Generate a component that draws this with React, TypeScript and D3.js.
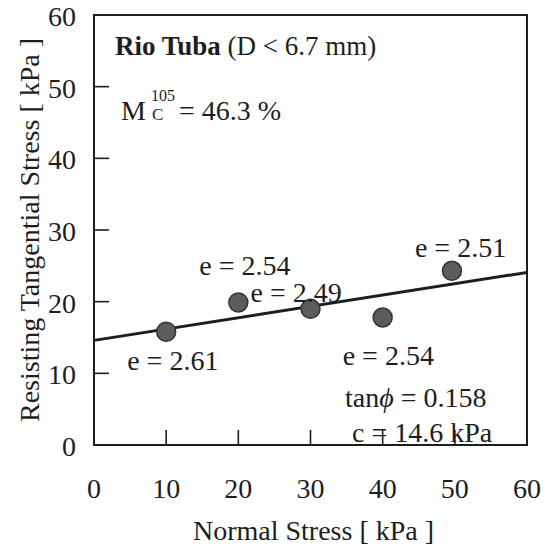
import React from "react";
import * as d3 from "d3";

const normalStress = [10, 20, 30, 40, 49.6];
const tangentialStress = [15.8, 19.9, 19.0, 17.8, 24.3];
const voidRatios = ["e = 2.61", "e = 2.54", "e = 2.49", "e = 2.54", "e = 2.51"];
const xTicks = [0, 10, 20, 30, 40, 50, 60];
const yTicks = [0, 10, 20, 30, 40, 50, 60];
const intercept = 14.6;
const slope = 0.158;

// label offsets (px) relative to each point
const labelOffsets = [
  [-39, 38],
  [-39, -27],
  [-60, -7],
  [-40, 48],
  [-37, -14],
];

const W = 548;
const H = 550;
const INK = "#1e1e1e";
const FONT = "Liberation Serif";

export default function App() {
  const x = d3.scaleLinear().domain([0, 60]).range([94, 527]);
  const y = d3.scaleLinear().domain([0, 60]).range([445, 15]);
  const line = d3
    .line<number>()
    .x((d) => x(d))
    .y((d) => y(intercept + slope * d));

  return (
    <div style={{ position: "absolute", left: 0, top: 0 }}>
      <svg width={W} height={H} style={{ display: "block", background: "#fff" }}>
        {/* frame */}
        <rect
          x={x(0)}
          y={y(60)}
          width={x(60) - x(0)}
          height={y(0) - y(60)}
          fill="none"
          stroke={INK}
          strokeWidth={2}
        />
        {/* ticks */}
        {xTicks.slice(1, -1).map((t) => (
          <line key={"xt" + t} x1={x(t)} x2={x(t)} y1={y(0)} y2={y(0) - 15} stroke={INK} strokeWidth={1.6} />
        ))}
        {yTicks.slice(1, -1).map((t) => (
          <line key={"yt" + t} x1={x(0)} x2={x(0) + 15} y1={y(t)} y2={y(t)} stroke={INK} strokeWidth={1.6} />
        ))}
        <g fill={INK} style={{ fontFamily: FONT, fontSize: 28 }}>
          {/* tick labels */}
          {xTicks.map((t) => (
            <text key={"xl" + t} x={x(t)} y={498} textAnchor="middle">
              {t}
            </text>
          ))}
          {yTicks.map((t) => (
            <text key={"yl" + t} x={76} y={y(t) + 11} textAnchor="end">
              {t}
            </text>
          ))}
          {/* axis titles */}
          <text x={(x(0) + x(60)) / 2 + 3} y={540} textAnchor="middle">
            Normal Stress [ kPa ]
          </text>
          <text transform={`translate(39, 230) rotate(-90)`} textAnchor="middle">
            Resisting Tangential Stress [ kPa ]
          </text>
        </g>
        {/* fit line */}
        <path d={line([0, 60]) || ""} fill="none" stroke={INK} strokeWidth={3} />
        {/* points */}
        {normalStress.map((v, i) => (
          <circle
            key={"p" + i}
            cx={x(v)}
            cy={y(tangentialStress[i])}
            r={9.5}
            fill="#5c5c5c"
            stroke="#333"
            strokeWidth={1.5}
          />
        ))}
        <g fill={INK} style={{ fontFamily: FONT, fontSize: 28 }}>
          {normalStress.map((v, i) => (
            <text
              key={"pl" + i}
              x={x(v) + labelOffsets[i][0]}
              y={y(tangentialStress[i]) + labelOffsets[i][1]}
            >
              {voidRatios[i]}
            </text>
          ))}
          {/* annotations */}
          <text x={115} y={55} style={{ fontSize: 27 }}>
            <tspan fontWeight="bold">Rio Tuba</tspan>
            <tspan> (D &lt; 6.7 mm)</tspan>
          </text>
          <text x={121} y={120}>M</text>
          <text x={151} y={101} style={{ fontSize: 16 }}>105</text>
          <text x={152} y={120} style={{ fontSize: 17 }}>C</text>
          <text x={179} y={120}>= 46.3 %</text>
          <text x={345} y={407}>
            tan<tspan fontStyle="italic">ϕ</tspan> = 0.158
          </text>
          <text x={352} y={442}>c = 14.6 kPa</text>
        </g>
      </svg>
    </div>
  );
}
